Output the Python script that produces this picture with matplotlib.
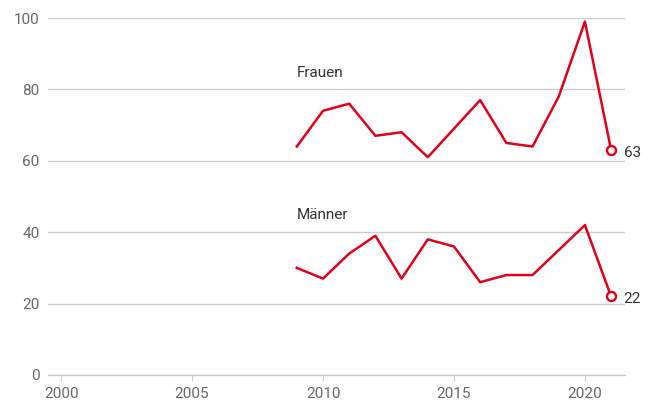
import numpy as np
import matplotlib.pyplot as plt

plt.rcParams['font.family'] = ['Roboto', 'DejaVu Sans']

years = list(range(2009, 2022))
frauen = [64, 74, 76, 67, 68, 61, 69, 77, 65, 64, 78, 99, 63]
maenner = [30, 27, 34, 39, 27, 38, 36, 26, 28, 28, 35, 42, 22]
series_labels = ['Frauen', 'Männer']
x_ticks = [2000, 2005, 2010, 2015, 2020]
y_ticks = [0, 20, 40, 60, 80, 100]

red = '#e2001a'
grid = '#cccccc'
tick_col = '#666666'

fig = plt.figure(figsize=(6.53, 4.05), dpi=100)
ax = fig.add_axes([48 / 653, 30 / 405, 577 / 653, 357 / 405])

# Beschriftung etwas oberhalb der jeweiligen Linie
label_y = [84.5, 44.7]
for vals, name, ly in zip([frauen, maenner], series_labels, label_y):
    ax.plot(years, vals, color=red, lw=1.8, clip_on=False, zorder=3)
    ax.plot(years[-1], vals[-1], 'o', ms=6.5, mfc='white', mec=red, mew=1.7,
            clip_on=False, zorder=4)
    ax.annotate(str(vals[-1]), (years[-1], vals[-1]), xytext=(9, -2),
                textcoords='offset points', va='center', ha='left',
                fontsize=11, color='#333333')
    ax.text(years[0], ly, name, ha='left', va='center',
            fontsize=11, color='#333333')

ax.set_xlim(1999.5, 2021.53)
ax.set_ylim(0, 100)
ax.set_xticks(x_ticks)
ax.set_yticks(y_ticks)
ax.grid(axis='y', color=grid, lw=1)
ax.set_axisbelow(True)
for s in ['top', 'right', 'left']:
    ax.spines[s].set_visible(False)
ax.spines['bottom'].set_color(grid)
ax.spines['bottom'].set_linewidth(1)
ax.tick_params(axis='y', length=0, pad=6, labelsize=11, labelcolor=tick_col)
ax.tick_params(axis='x', length=4, color=grid, pad=5, labelsize=11,
               labelcolor=tick_col)

fig.savefig('out.png', dpi=100)
